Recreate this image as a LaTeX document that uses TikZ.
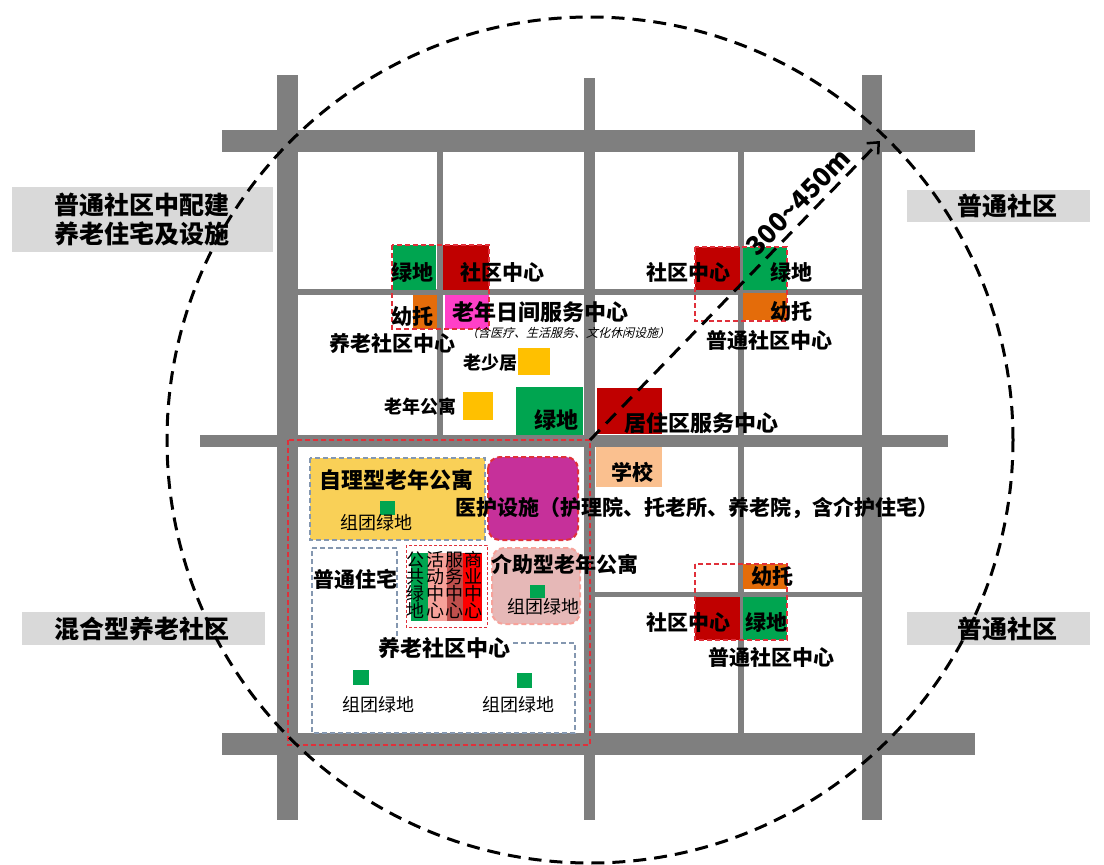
\documentclass[tikz,border=0pt]{standalone}
\usepackage{fontspec}
\setmainfont{Noto Sans CJK SC}
\newfontfamily\slantcjk[FakeSlant=0.25]{Noto Sans CJK SC}
\usetikzlibrary{arrows.meta}
\definecolor{roadgray}{HTML}{7F7F7F}
\definecolor{grnc}{HTML}{00A550}
\definecolor{redc}{HTML}{C00000}
\definecolor{orangec}{HTML}{E46C0A}
\definecolor{magc}{HTML}{FF40C8}
\definecolor{purpc}{HTML}{C6309A}
\definecolor{yellowc}{HTML}{FFC000}
\definecolor{lyellow}{HTML}{F9D057}
\definecolor{peachc}{HTML}{FAC08F}
\definecolor{pinkc}{HTML}{E6B8B7}
\definecolor{salmonc}{HTML}{F7A29A}
\definecolor{brownc}{HTML}{C0504D}
\definecolor{brightred}{HTML}{FF0000}
\definecolor{dashred}{HTML}{E0303A}
\definecolor{lbgray}{HTML}{D9D9D9}
\definecolor{dgray}{HTML}{8497B0}
\begin{document}
\begin{tikzpicture}[x=1pt,y=-1pt,
  road/.style={fill=roadgray,draw=none},
  T/.style={inner sep=0pt,font=\fontsize{#1}{#1}\selectfont\bfseries},
  R/.style={inner sep=0pt,font=\fontsize{#1}{#1}\selectfont},
  reddash/.style={draw=dashred,line width=2pt,dash pattern=on 5pt off 3pt},
  graydash/.style={draw=dgray,line width=1.2pt,dash pattern=on 5pt off 3pt},
  greybox/.style={fill=lbgray,draw=none},
]
\useasboundingbox (0,0) rectangle (1104,865);
\fill[white] (0,0) rectangle (1104,865);

% ---------- roads ----------
\fill[road] (222,130) rectangle (975,152);
\fill[road] (222,733) rectangle (975,755);
\fill[road] (200,435) rectangle (948,447);
\fill[road] (298,289) rectangle (862,295);
\fill[road] (595,592) rectangle (862,597);
\fill[road] (277,75) rectangle (298,820);
\fill[road] (584,78) rectangle (595,820);
\fill[road] (862,75) rectangle (882,820);
\fill[road] (437,152) rectangle (443,435);
\fill[road] (738,152) rectangle (744,733);

% ---------- grey label boxes ----------
\fill[greybox] (12,187) rectangle (273,252);
\fill[greybox] (907,190) rectangle (1090,222);
\fill[greybox] (22,612) rectangle (265,645);
\fill[greybox] (907,612) rectangle (1090,645);
\node[T=25,align=center] (lbl1) at (142,219) {普通社区中配建\\[4pt]养老住宅及设施};
\node[T=25] (lbl2) at (1007,206) {普通社区};
\node[T=25] (lbl3) at (142,629) {混合型养老社区};
\node[T=25] (lbl4) at (1007,629) {普通社区};

% ---------- top-left cluster ----------
\fill[grnc] (393,245) rectangle (436,290);
\fill[redc] (443,245) rectangle (489,290);
\fill[orangec] (413,295) rectangle (437,329);
\fill[magc] (445,295) rectangle (489,329);
\draw[reddash] (392,245) rectangle (489,329);
\node[T=21] (tl1) at (412,272) {绿地};
\node[T=21] (tl2) at (502,272) {社区中心};
\node[T=21] (tl3) at (412,317) {幼托};
\node[T=22] (tl4) at (540,312) {老年日间服务中心};
\node[R=12,font=\fontsize{12}{12}\slantcjk] (tl5) at (568,333) {（含医疗、生活服务、文化休闲设施）};
\node[T=21] (tl6) at (392,343) {养老社区中心};

% ---------- top-right cluster ----------
\fill[redc] (695,247) rectangle (740,290);
\fill[grnc] (743,247) rectangle (787,290);
\fill[orangec] (743,293) rectangle (787,320);
\draw[reddash] (695,247) rectangle (787,321);
\node[T=21] (tr1) at (688,272) {社区中心};
\node[T=21] (tr2) at (791,272) {绿地};
\node[T=21] (tr3) at (791,312) {幼托};
\node[T=21] (tr4) at (769,340) {普通社区中心};

% ---------- bottom-right cluster ----------
\fill[orangec] (743,564) rectangle (787,589);
\fill[redc] (695,597) rectangle (740,640);
\fill[grnc] (743,597) rectangle (787,640);
\draw[reddash] (695,564) rectangle (787,640);
\node[T=21] (br1) at (772,577) {幼托};
\node[T=21] (br2) at (688,622) {社区中心};
\node[T=21] (br3) at (766,622) {绿地};
\node[T=21] (br4) at (771,657) {普通社区中心};

% ---------- middle ----------
\fill[yellowc] (518,348) rectangle (550,375);
\node[T=18] (m1) at (490,363) {老少居};
\fill[yellowc] (463,392) rectangle (493,420);
\node[T=18] (m2) at (420,407) {老年公寓};
\fill[grnc] (516,387) rectangle (583,435);
\node[T=22] (m3) at (556,420) {绿地};
\fill[redc] (597,388) rectangle (662,434);
\node[T=22] (m4) at (701,423) {居住区服务中心};
\fill[peachc] (596,447) rectangle (662,487);
\node[T=21] (m5) at (632,472) {学校};

% ---------- lower-left mixed community ----------
\fill[white] (298,447) rectangle (584,733);
\draw[graydash,fill=lyellow] (310,458) rectangle (485,540);
\node[T=22] (a1) at (396,480) {自理型老年公寓};
\fill[grnc] (380,501) rectangle (395,515);
\node[R=18] (a2) at (376,523) {组团绿地};

\draw[dashred,line width=2pt,dash pattern=on 5pt off 3pt,fill=purpc,rounded corners=12pt] (488,457) rectangle (578,540);

\draw[graydash] (312,548) -- (397,548) -- (397,643) -- (575,643) -- (575,733) -- (312,733) -- cycle;
\node[T=21] (b1) at (355,579) {普通住宅};

% service composite
\fill[grnc] (411,553) rectangle (428,621);
\fill[salmonc] (428,553) rectangle (447,621);
\fill[brownc] (447,553) rectangle (463,621);
\fill[brightred] (463,553) rectangle (482,621);
\draw[dashred,line width=1pt,dash pattern=on 3pt off 2pt] (406,545) rectangle (487,627);
\node[R=18,align=center] (c1) at (415,585) {公\\[-1pt]共\\[-1pt]绿\\[-1pt]地};
\node[R=18,align=center] (c2) at (435,585) {活\\[-1pt]动\\[-1pt]中\\[-1pt]心};
\node[R=18,align=center] (c3) at (454,585) {服\\[-1pt]务\\[-1pt]中\\[-1pt]心};
\node[R=18,align=center] (c4) at (473,585) {商\\[-1pt]业\\[-1pt]中\\[-1pt]心};

\draw[draw=salmonc,line width=2pt,dash pattern=on 5pt off 3pt,fill=pinkc,rounded corners=12pt] (492,548) rectangle (580,624);
\node[T=21] (d1) at (565,564) {介助型老年公寓};
\fill[grnc] (530,585) rectangle (545,598);
\node[R=18] (d2) at (543,607) {组团绿地};

\node[T=22,fill=white,inner sep=1pt] (e1) at (444,648) {养老社区中心};
\fill[grnc] (353,670) rectangle (369,685);
\node[R=18] (e2) at (378,705) {组团绿地};
\fill[grnc] (517,673) rectangle (532,688);
\node[R=18] (e3) at (518,705) {组团绿地};

\draw[reddash,line width=2.5pt] (288,440) rectangle (590,745);

% 医护设施 label (on top)
\node[T=21,anchor=west] (f1) at (455,508) {医护设施（护理院、托老所、养老院，含介护住宅）};

% ---------- circle and radius arrow ----------
\coordinate (ctr) at (590,440);
\coordinate (tip) at (880,141);
\draw[black,line width=3pt,dash pattern=on 13pt off 8pt] (ctr) circle[radius=423pt];
\draw[black,line width=3pt,dash pattern=on 14pt off 9pt,-{Straight Barb[length=9pt,width=16pt,line width=2.5pt]}] (ctr) -- (tip);
\node[T=26,rotate=45.8] (dist) at (798,202) {300\textasciitilde450m};
\end{tikzpicture}
\end{document}
